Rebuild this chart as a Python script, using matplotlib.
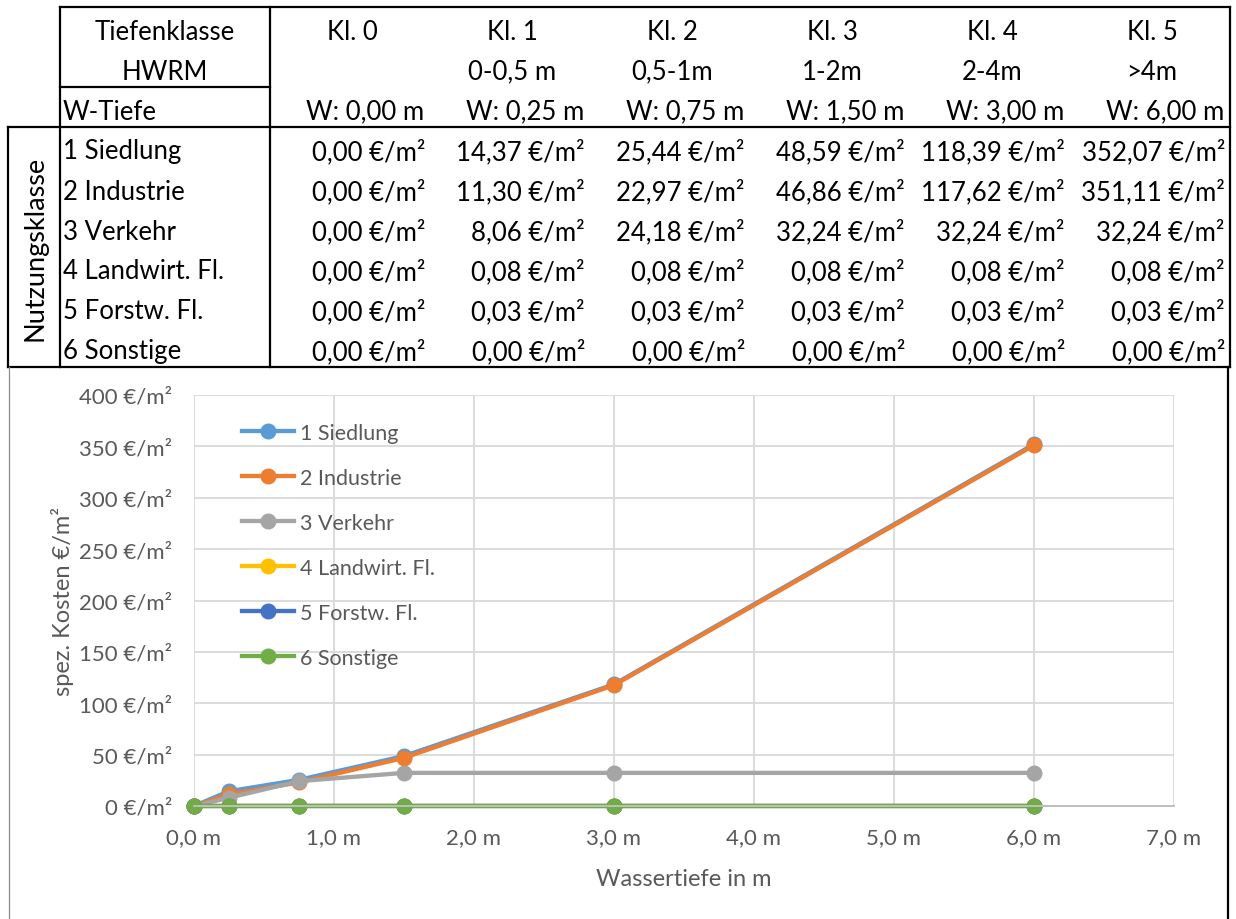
import numpy as np
import matplotlib
matplotlib.use('agg')
import matplotlib.pyplot as plt
from matplotlib.ticker import FuncFormatter

plt.rcParams['font.family'] = ['Lato', 'DejaVu Sans']

W, H = 1236, 920

# table header
tiefenklassen = ['Kl. 0', 'Kl. 1', 'Kl. 2', 'Kl. 3', 'Kl. 4', 'Kl. 5']
tiefenbereiche = ['', '0-0,5 m', '0,5-1m', '1-2m', '2-4m', '>4m']
wassertiefe = [0.0, 0.25, 0.75, 1.5, 3.0, 6.0]

# spez. Kosten je Nutzungsklasse (EUR/m2)
nutzung = ['1 Siedlung', '2 Industrie', '3 Verkehr', '4 Landwirt. Fl.',
           '5 Forstw. Fl.', '6 Sonstige']
siedlung = [0.00, 14.37, 25.44, 48.59, 118.39, 352.07]
industrie = [0.00, 11.30, 22.97, 46.86, 117.62, 351.11]
verkehr = [0.00, 8.06, 24.18, 32.24, 32.24, 32.24]
landwirt = [0.00, 0.08, 0.08, 0.08, 0.08, 0.08]
forst = [0.00, 0.03, 0.03, 0.03, 0.03, 0.03]
sonstige = [0.00, 0.00, 0.00, 0.00, 0.00, 0.00]

kosten = [siedlung, industrie, verkehr, landwirt, forst, sonstige]
farben = ['#5B9BD5', '#ED7D31', '#A5A5A5', '#FFC000', '#4472C4', '#70AD47']


def de(v, nd):
    return ('{:.%df}' % nd).format(v).replace('.', ',')


fig = plt.figure(figsize=(W / 100, H / 100), dpi=100)

# overlay in pixel coordinates for the table
bg = fig.add_axes([0, 0, 1, 1], zorder=0)
bg.set_xlim(0, W)
bg.set_ylim(H, 0)
bg.axis('off')

def hline(y, x0, x1, **kw):
    bg.plot([x0, x1], [y, y], solid_capstyle='projecting', **kw)

def vline(x, y0, y1, **kw):
    bg.plot([x, x], [y0, y1], solid_capstyle='projecting', **kw)

tab = dict(color='black', lw=1.6)
hline(8, 60, 1230, **tab)
hline(88, 60, 270, **tab)
hline(128, 8, 1230, **tab)
hline(368, 8, 1230, **tab)
vline(8, 128, 368, **tab)
vline(60, 8, 368, **tab)
vline(270, 8, 368, **tab)
vline(1230, 8, 368, **tab)

# chart area frame
vline(9, 368, 920, color='#8c8c8c', lw=0.9)
vline(1228, 368, 920, color='black', lw=1.6)

fs_tab = 18.5
rows = [30 + 40 * i for i in range(9)]
dy = 2

bg.text(165, rows[0] + dy, 'Tiefenklasse', ha='center', va='center', fontsize=fs_tab)
bg.text(165, rows[1] + dy, 'HWRM', ha='center', va='center', fontsize=fs_tab)
bg.text(63, rows[2] + dy, 'W-Tiefe', ha='left', va='center', fontsize=fs_tab)
bg.text(35, 248, 'Nutzungsklasse', ha='center', va='center', rotation=90,
        fontsize=fs_tab + 1)

for i in range(6):
    left = 270 + 160 * i
    bg.text(left + 82, rows[0] + dy, tiefenklassen[i], ha='center', va='center',
            fontsize=fs_tab)
    bg.text(left + 82, rows[1] + dy, tiefenbereiche[i], ha='center', va='center',
            fontsize=fs_tab)
    bg.text(left + 154, rows[2] + dy, 'W: ' + de(wassertiefe[i], 2) + ' m',
            ha='right', va='center', fontsize=fs_tab)

for r, (name, werte) in enumerate(zip(nutzung, kosten)):
    y = rows[3 + r] + dy
    bg.text(63, y, name, ha='left', va='center', fontsize=fs_tab)
    for i, v in enumerate(werte):
        left = 270 + 160 * i
        bg.text(left + 155, y, de(v, 2) + ' €/m²', ha='right', va='center',
                fontsize=fs_tab)

# chart
ax = fig.add_axes([194 / W, 1 - 807 / H, 980 / W, 411 / H], zorder=2)
ax.patch.set_alpha(0)

for name, werte, c in zip(nutzung, kosten, farben):
    ax.plot(wassertiefe, werte, color=c, lw=3.1, marker='o', ms=10.5,
            label=name, clip_on=False)

ax.set_xlim(0, 7)
ax.set_ylim(0, 400)
ax.set_xticks(np.arange(0, 8, 1))
ax.set_yticks(np.arange(0, 401, 50))
ax.xaxis.set_major_formatter(FuncFormatter(lambda v, p: de(v, 1) + ' m'))
ax.yaxis.set_major_formatter(FuncFormatter(lambda v, p: de(v, 0) + ' €/m²'))

grau = '#595959'
ax.tick_params(axis='both', length=0, labelsize=16, labelcolor=grau)
ax.tick_params(axis='x', pad=15)
ax.tick_params(axis='y', pad=16)
ax.grid(True, color='#D9D9D9', lw=1.3)
ax.set_axisbelow(True)
for s in ['top', 'right', 'left']:
    ax.spines[s].set_visible(False)
ax.spines['bottom'].set_color('#BFBFBF')
ax.spines['bottom'].set_linewidth(1.4)

ax.set_xlabel('Wassertiefe in m', fontsize=17, color=grau)
ax.xaxis.set_label_coords(0.5, (807 - 869) / 411)
ax.set_ylabel('spez. Kosten €/m²', fontsize=17, color=grau)
ax.yaxis.set_label_coords((74 - 194) / 980, 0.5)

leg = ax.legend(loc='upper left', bbox_to_anchor=(242 / W, 1 - 424 / H),
                bbox_transform=fig.transFigure, frameon=False, fontsize=15.5,
                borderpad=0, borderaxespad=0, handlelength=2.4,
                handletextpad=0.3, labelspacing=1.16, labelcolor=grau)

fig.savefig('out.png', dpi=100)
